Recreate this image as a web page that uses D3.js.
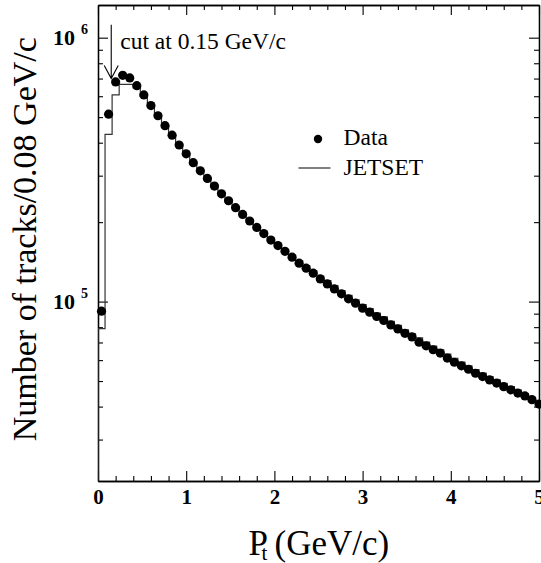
<!DOCTYPE html>
<html>
<head>
<meta charset="utf-8">
<script src="https://cdn.jsdelivr.net/npm/d3@7"></script>
<style>
  html, body { margin: 0; padding: 0; background: #fff; }
  svg { display: block; }
  text { font-family: "Liberation Serif", "Times New Roman", serif; }
</style>
</head>
<body>
<svg id="chart" width="541" height="563"></svg>
<script>
// Transverse momentum spectrum of charged tracks, bins of 0.08 GeV/c
const binWidth = 0.08;
const binCenters = d3.range(63).map(i => +(0.04 + i * binWidth).toFixed(2));

// Measured track counts per bin (points)
const dataCounts = [
  9.2e4, 5.13e5, 6.80e5, 7.20e5, 7.04e5, 6.58e5, 6.07e5, 5.53e5, 5.06e5, 4.64e5,
  4.27e5, 3.92e5, 3.63e5, 3.36e5, 3.13e5, 2.93e5, 2.74e5, 2.56e5, 2.41e5, 2.27e5,
  2.14e5, 2.02e5, 1.91e5, 1.81e5, 1.71e5, 1.63e5, 1.55e5, 1.473e5, 1.398e5, 1.338e5,
  1.281e5, 1.219e5, 1.167e5, 1.117e5, 1.070e5, 1.024e5, 9.86e4, 9.44e4, 9.12e4, 8.78e4,
  8.48e4, 8.16e4, 7.88e4, 7.58e4, 7.35e4, 7.02e4, 6.80e4, 6.57e4, 6.38e4, 6.11e4,
  5.89e4, 5.71e4, 5.54e4, 5.35e4, 5.20e4, 5.05e4, 4.91e4, 4.76e4, 4.63e4, 4.50e4,
  4.39e4, 4.25e4, 4.09e4
];

// JETSET simulation, same binning (histogram)
const jetsetCounts = [
  7.9e4, 4.3e5, 6.07e5, 6.65e5, 6.65e5, 6.45e5, 6.0e5, 5.5e5, 5.05e5, 4.63e5,
  4.27e5, 3.93e5, 3.64e5, 3.38e5, 3.15e5, 2.95e5, 2.76e5, 2.58e5, 2.43e5, 2.29e5,
  2.16e5, 2.04e5, 1.93e5, 1.83e5, 1.74e5, 1.65e5, 1.575e5, 1.50e5, 1.43e5, 1.37e5,
  1.31e5, 1.25e5, 1.20e5, 1.15e5, 1.10e5, 1.055e5, 1.015e5, 9.75e4, 9.40e4, 9.05e4,
  8.75e4, 8.42e4, 8.12e4, 7.82e4, 7.55e4, 7.28e4, 7.02e4, 6.78e4, 6.56e4, 6.32e4,
  6.10e4, 5.90e4, 5.71e4, 5.52e4, 5.36e4, 5.20e4, 5.05e4, 4.90e4, 4.76e4, 4.62e4,
  4.48e4, 4.34e4, 4.20e4
];

const xMajorTicks = [0, 1, 2, 3, 4, 5];
const yMajorTicks = [1e5, 1e6];
const legendLabels = ["Data", "JETSET"];
const cutValue = 0.15;
const cutLabel = "cut at 0.15 GeV/c";
const xTitle = ["P", "t", "(GeV/c)"];
const yTitle = "Number of tracks/0.08 GeV/c";

const width = 541, height = 563;
const margin = { top: 5, right: 2, bottom: 82, left: 98 };
const W = width - margin.left - margin.right;
const H = height - margin.top - margin.bottom;

const svg = d3.select("#chart");
const g = svg.append("g").attr("transform", `translate(${margin.left},${margin.top})`);

const x = d3.scaleLinear().domain([0, 5]).range([0, W]);
const y = d3.scaleLog().domain([2.09e4, 1.33e6]).range([H, 0]);

svg.append("defs").append("clipPath").attr("id", "plotClip")
  .append("rect").attr("width", W).attr("height", H);

// Minor tick positions
const xMinor = d3.range(0, 5.0001, 0.2).filter(v => Math.abs(v - Math.round(v)) > 1e-6);
const yMinor = [];
for (const dec of [1e4, 1e5]) for (let m = 2; m <= 9; m++) {
  const v = m * dec;
  if (v >= y.domain()[0] && v <= y.domain()[1]) yMinor.push(v);
}

function styleAxis(sel) {
  sel.select(".domain").attr("stroke", "#000").attr("stroke-width", 1.3);
  sel.selectAll(".tick line").attr("stroke", "#000").attr("stroke-width", 1.1);
}

// Bottom axis (inward ticks)
g.append("g").attr("transform", `translate(0,${H})`)
  .call(d3.axisBottom(x).tickValues(xMinor).tickSize(-5).tickSizeOuter(0).tickFormat(""))
  .call(styleAxis);
const xAxisG = g.append("g").attr("transform", `translate(0,${H})`)
  .call(d3.axisBottom(x).tickValues(xMajorTicks).tickSize(-10).tickSizeOuter(0)
    .tickPadding(8).tickFormat(d3.format("d")))
  .call(styleAxis);
xAxisG.selectAll(".tick text")
  .attr("font-family", "'Liberation Serif', serif")
  .attr("font-weight", "bold").attr("font-size", 21).attr("fill", "#000");

// Top axis (mirrored ticks)
g.append("g")
  .call(d3.axisTop(x).tickValues(xMinor).tickSize(-5).tickSizeOuter(0).tickFormat(""))
  .call(styleAxis);
g.append("g")
  .call(d3.axisTop(x).tickValues(xMajorTicks).tickSize(-10).tickSizeOuter(0).tickFormat(""))
  .call(styleAxis);

// Left axis
g.append("g")
  .call(d3.axisLeft(y).tickValues(yMinor).tickSize(-5).tickSizeOuter(0).tickFormat(""))
  .call(styleAxis);
const yAxisG = g.append("g")
  .call(d3.axisLeft(y).tickValues(yMajorTicks).tickSize(-10).tickSizeOuter(0).tickPadding(10))
  .call(styleAxis);
yAxisG.selectAll(".tick text").each(function (d) {
  const t = d3.select(this);
  t.text(null)
    .attr("font-family", "'Liberation Serif', serif")
    .attr("font-weight", "bold").attr("font-size", 22).attr("fill", "#000");
  t.append("tspan").text("10");
  t.append("tspan").attr("dx", 6).attr("dy", -11).attr("font-size", 14)
    .text(Math.round(Math.log10(d)));
});

// Right axis (mirrored ticks)
g.append("g").attr("transform", `translate(${W},0)`)
  .call(d3.axisRight(y).tickValues(yMinor).tickSize(-5).tickSizeOuter(0).tickFormat(""))
  .call(styleAxis);
g.append("g").attr("transform", `translate(${W},0)`)
  .call(d3.axisRight(y).tickValues(yMajorTicks).tickSize(-10).tickSizeOuter(0).tickFormat(""))
  .call(styleAxis);

// JETSET histogram as a step line
const histPts = [[0, y.domain()[0]], [0, jetsetCounts[0]]];
jetsetCounts.forEach((v, i) => { if (i > 0) histPts.push([i * binWidth, v]); });
histPts.push([jetsetCounts.length * binWidth, jetsetCounts[jetsetCounts.length - 1]]);

const stepLine = d3.line()
  .x(d => x(d[0])).y(d => y(d[1]))
  .curve(d3.curveStepAfter);

g.append("path")
  .attr("clip-path", "url(#plotClip)")
  .attr("d", stepLine(histPts))
  .attr("fill", "none").attr("stroke", "#333").attr("stroke-width", 1.2);

// Data points
g.append("g").selectAll("circle")
  .data(binCenters.map((c, i) => [c, dataCounts[i]]))
  .join("circle")
  .attr("cx", d => x(d[0])).attr("cy", d => y(d[1]))
  .attr("r", 4.6).attr("fill", "#000");

// Cut annotation arrow
const ax = x(cutValue);
const tipY = y(7.0e5), topY = y(1.12e6);
g.append("path")
  .attr("d", `M${ax},${topY}L${ax},${tipY}M${ax - 7},${tipY - 13}L${ax},${tipY}L${ax + 7},${tipY - 13}`)
  .attr("fill", "none").attr("stroke", "#000").attr("stroke-width", 1.1);
g.append("text")
  .attr("x", ax + 9).attr("y", y(1e6) + 11.6)
  .attr("font-size", 23.5).attr("fill", "#000")
  .text(cutLabel);

// Legend
const lgX = x(2.5), lgY1 = 134, lgY2 = 163;
g.append("circle").attr("cx", lgX - 0.5).attr("cy", lgY1).attr("r", 4.2).attr("fill", "#000");
g.append("line")
  .attr("x1", lgX - 20).attr("x2", lgX + 12)
  .attr("y1", lgY2).attr("y2", lgY2)
  .attr("stroke", "#555").attr("stroke-width", 1.3);
g.append("text").attr("x", lgX + 25).attr("y", lgY1 + 6).attr("font-size", 23.5).attr("fill", "#000")
  .text(legendLabels[0]);
g.append("text").attr("x", lgX + 25).attr("y", lgY2 + 7).attr("font-size", 23.5).attr("fill", "#000")
  .text(legendLabels[1]);

// Axis titles
const xtX = margin.left + W / 2 - 70, xtY = 555;
const xt = svg.append("text").attr("y", xtY).attr("font-size", 35).attr("fill", "#000");
xt.append("tspan").attr("x", xtX).text(xTitle[0]);
xt.append("tspan").attr("x", xtX + 13).attr("dy", 5).attr("font-size", 21).text(xTitle[1]);
xt.append("tspan").attr("x", xtX + 26).attr("dy", -5).text(xTitle[2]);

svg.append("text")
  .attr("transform", `translate(35.5,${margin.top + y(1.8e5) + 5})rotate(-90)`)
  .attr("text-anchor", "middle")
  .attr("font-size", 34).attr("fill", "#000")
  .text(yTitle);
</script>
</body>
</html>
